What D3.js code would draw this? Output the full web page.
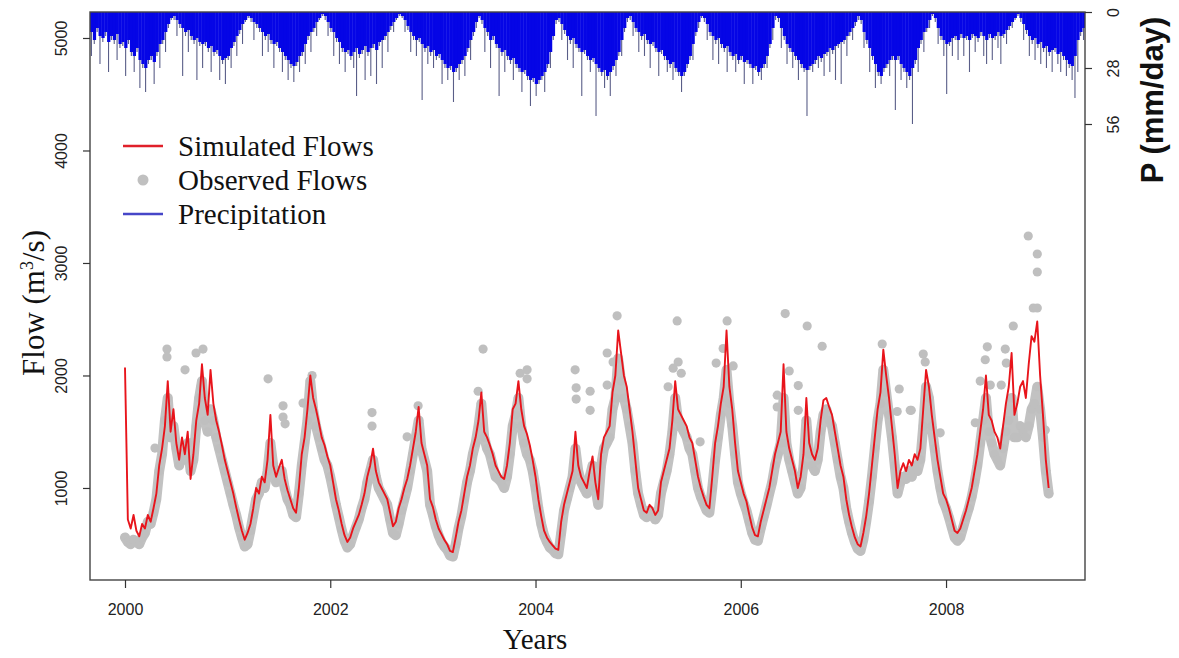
<!DOCTYPE html>
<html><head><meta charset="utf-8">
<script src="https://cdn.jsdelivr.net/npm/d3@7"></script>
<style>body{margin:0;background:#fff}</style>
</head><body>
<svg id="chart" width="1179" height="658"></svg>
<script>
// ---- data (~10-day resolution) ----
const flowStart = 2000;      // decimal year of first flow value
const flowStep = 1/36;       // years between flow values
const simulated = [
 2070,720,640,760,620,570,680,640,760,700,820,950,1200,1350,1550,1950,1500,1700,1400,1250,1450,1300,1500,1080,1300,1600,1750,2100,1800,1650,2050,1750,1600,1500,1380,1250,
 1150,1050,950,830,720,620,540,600,680,820,1000,950,1100,1050,1250,1650,1200,1100,1180,1250,1080,980,900,820,780,1000,1300,1450,1700,2000,1800,1700,1580,1450,1380,1280,
 1200,1050,900,800,680,580,520,560,640,700,760,850,950,1100,1200,1350,1150,1050,1000,950,900,780,660,700,820,900,1000,1080,1200,1350,1500,1720,1400,1300,1200,900,
 830,720,640,590,540,500,440,430,560,700,800,950,1100,1200,1350,1450,1600,1850,1500,1450,1380,1300,1200,1150,1100,1080,1200,1400,1700,1750,1950,1700,1550,1480,1380,1250,
 1100,900,750,620,560,520,490,460,450,700,850,950,1050,1150,1500,1200,1100,1050,1000,1150,1280,1050,900,1300,1450,1500,1550,1850,2000,2400,2200,2000,1900,1700,1500,1250,
 1000,900,800,780,850,820,760,800,1050,1150,1250,1350,1600,1950,1700,1650,1600,1550,1450,1400,1250,1100,1000,920,850,820,1100,1400,1550,1750,1900,2400,1900,1700,1400,1150,
 1050,950,880,760,650,580,570,700,800,900,1000,1150,1300,1400,1500,2100,1500,1350,1250,1150,1000,1100,1300,1800,1400,1300,1250,1350,1600,1780,1800,1720,1650,1500,1350,1200,
 1100,900,760,650,560,500,480,600,750,950,1200,1450,1700,1850,2230,2000,1800,1550,1300,1000,1150,1220,1150,1250,1200,1300,1250,1350,1700,2050,1900,1650,1450,1250,1100,950,
 900,820,720,620,600,640,720,800,900,1000,1150,1300,1500,1700,2000,1650,1600,1500,1450,1350,1550,1750,1900,2200,1650,1750,1900,1950,1800,2100,2350,2300,2480,2000,1650,1250,1000
];
const observed = [
 560,520,500,540,520,500,560,600,700,680,780,900,1150,1300,1600,1800,1450,1550,1350,1200,1300,1250,1400,1150,1250,1550,1800,1950,1600,1500,1700,1600,1450,1350,1250,1150,
 1050,950,850,760,650,560,480,500,620,760,900,950,1050,1000,1150,1400,1200,1050,1150,1150,1000,900,850,760,740,950,1200,1400,1600,1950,1700,1550,1450,1350,1250,1200,
 1100,980,850,740,630,530,470,500,580,650,720,820,900,1050,1150,1250,1100,1000,950,900,850,720,600,580,680,800,900,1000,1150,1300,1450,1600,1350,1250,1150,850,
 760,660,580,520,480,450,400,390,500,640,750,900,1050,1150,1300,1400,1550,1750,1450,1350,1300,1200,1100,1080,1050,1000,1100,1300,1550,1650,1800,1550,1400,1300,1250,1150,
 1000,820,680,580,520,470,450,420,410,600,800,900,1000,1100,1350,1150,1050,1000,950,1100,1200,1000,850,1200,1350,1400,1450,1700,1800,2150,1950,1800,1700,1550,1400,1150,
 950,850,760,740,800,760,720,760,950,1050,1150,1300,1500,1800,1600,1550,1500,1450,1350,1300,1150,1000,920,860,800,780,1000,1250,1450,1650,1800,2050,1750,1550,1300,1050,
 950,870,800,700,600,540,530,640,740,840,950,1050,1200,1300,1400,1800,1400,1250,1150,1050,950,1000,1200,1600,1300,1200,1150,1250,1500,1650,1700,1600,1550,1400,1250,1100,
 1000,820,700,600,520,460,440,540,700,880,1100,1350,1600,1750,2050,1850,1650,1450,1200,950,1050,1100,1080,1150,1100,1200,1150,1250,1550,1900,1800,1550,1350,1150,1000,880,
 820,740,650,560,530,560,650,740,820,920,1050,1200,1400,1600,1800,1500,1400,1300,1250,1200,1350,1500,1600,1800,1450,1450,1550,1500,1450,1550,1700,1750,1900,1700,1450,1150,950
];
// scattered high observations (decimal year, flow)
const observedExtraYears = [2000.292,2000.409,2000.409,2000.585,2000.692,2000.740,2000.760,2001.394,2001.540,2001.540,2001.560,2001.735,2001.823,2002.407,2002.407,2002.749,2002.856,2003.441,2003.489,2003.850,2003.918,2003.918,2004.386,2004.396,2004.396,2004.532,2004.532,2004.698,2004.698,2004.756,2004.795,2005.292,2005.341,2005.380,2005.390,2005.420,2005.604,2005.760,2005.828,2005.867,2005.926,2006.355,2006.355,2006.433,2006.472,2006.560,2006.560,2006.647,2006.793,2007.378,2007.524,2007.544,2007.651,2007.661,2007.778,2007.797,2007.943,2008.285,2008.333,2008.382,2008.402,2008.431,2008.538,2008.577,2008.587,2008.655,2008.801,2008.850,2008.889,2008.889,2008.889,2008.967];
const observedExtraValues = [1355,2235,2165,2050,2200,1900,2235,1970,1730,1630,1570,1755,2000,1670,1550,1455,1730,1860,2235,2020,2050,1970,2050,1890,1790,1860,1690,2200,1915,2120,2530,1900,2065,2485,2120,2020,1410,2110,2240,2485,2085,1825,1720,2550,2040,1910,1690,2440,2260,2280,1680,1880,1690,1690,2190,2120,1490,1580,1950,2140,2255,1915,1915,2235,2110,2440,3240,2600,3080,2920,2600,1515];

const precipStart = 1999.659;  // decimal year of first precipitation bar
const precipStep = 1/36;
// typical daily precipitation in each bar (mm/day)
const precipTypical = [
 10,14,8,12,13,10,15,12,14,11,16,15,18,14,20,22,18,24,26,28,24,22,25,20,16,14,10,6,3,
 2,4,6,8,10,9,12,14,13,15,16,15,18,17,20,19,22,24,23,22,18,15,12,9,6,4,2,
 3,5,6,8,10,12,11,14,16,15,18,20,22,24,26,27,25,22,20,16,12,10,8,5,3,1,
 2,5,8,10,13,15,18,20,19,22,20,18,21,19,17,20,18,16,19,15,14,12,10,7,5,3,1,
 2,4,7,10,12,14,13,16,18,17,20,19,22,21,24,26,28,27,30,28,26,24,22,18,14,10,5,2,
 4,8,10,14,12,16,18,20,19,22,24,23,26,28,30,29,32,34,33,36,34,32,30,26,20,12,4,
 3,6,9,12,14,13,16,18,20,19,22,24,23,26,28,30,29,32,30,27,24,20,14,8,3,
 2,5,8,10,12,11,14,16,15,18,20,19,22,24,26,25,28,30,32,30,26,22,16,10,5,2,
 3,6,10,12,14,13,16,18,17,20,22,21,24,22,25,24,26,28,27,30,28,26,22,16,8,2,
 3,8,12,16,18,20,22,24,26,28,29,27,26,24,22,23,21,20,18,19,17,16,15,14,12,10,8,5,2,
 4,10,14,18,22,26,30,32,28,26,24,22,24,22,26,28,30,32,28,24,18,14,10,8,4,1,
 3,8,12,14,16,15,13,12,14,11,13,12,14,11,12,13,10,12,14,11,13,12,10,12,11,9,7,5,3,1,
 3,6,9,12,14,13,16,15,18,17,20,19,18,21,20,22,24,26,27,22,14,10,8,6
];
// highest daily precipitation in each bar (mm/day)
const precipMax = [
 22,16,10,26,15,12,30,14,16,24,18,17,32,16,22,30,20,38,28,40,26,24,36,22,28,16,20,8,4,
 4,12,8,32,12,20,14,16,34,17,28,17,20,30,22,21,34,26,36,24,28,17,22,11,16,5,3,
 5,14,8,10,22,14,20,16,28,17,20,30,24,34,28,35,27,30,22,26,14,20,10,12,4,2,
 4,12,10,22,15,26,20,30,21,24,28,42,23,21,34,22,32,18,36,17,28,14,20,9,10,4,2,
 3,10,9,20,14,22,15,44,20,26,22,28,24,23,36,28,34,29,45,30,34,26,32,20,24,12,8,3,
 6,20,12,28,14,18,42,22,30,24,26,34,28,30,40,31,34,47,35,42,36,34,40,28,28,14,6,
 5,14,11,24,16,28,18,20,42,21,24,30,25,52,30,32,38,34,42,29,32,22,22,10,5,
 4,12,10,20,14,22,16,28,17,20,32,21,24,30,28,34,30,32,40,32,28,24,24,12,8,3,
 5,14,12,24,16,26,18,20,30,22,24,30,26,24,36,26,28,36,29,32,34,28,28,18,14,4,
 5,18,14,26,20,28,24,34,28,30,52,29,30,26,28,25,32,22,30,21,34,18,36,16,22,12,14,7,4,
 6,18,16,30,24,38,32,36,30,28,32,24,49,24,34,30,38,34,56,26,30,16,20,10,8,2,
 5,16,14,22,41,17,22,14,24,13,22,14,30,13,20,15,12,22,26,13,24,14,18,26,13,16,9,8,4,2,
 5,14,11,22,16,24,18,26,20,28,22,30,20,26,30,24,32,28,34,43,30,12,14,7
];

const xTicks = [2000, 2002, 2004, 2006, 2008];
const flowTicks = [1000, 2000, 3000, 4000, 5000];
const precipTicks = [0, 28, 56];
const legendLabels = ["Simulated Flows", "Observed Flows", "Precipitation"];

// ---- drawing ----
const svg = d3.select("#chart");
const L = 90, R = 1085, T = 12, B = 580;
const x = d3.scaleLinear().domain([1999.659, 2009.354]).range([L, R]);
const y = d3.scaleLinear().domain([182, 5231]).range([B, T]);
const p = d3.scaleLinear().domain([0, 284]).range([T, B]);

svg.append("defs").append("clipPath").attr("id", "clip")
  .append("rect").attr("x", L).attr("y", T).attr("width", R - L).attr("height", B - T);
const plot = svg.append("g").attr("clip-path", "url(#clip)");

// observed flows: dense daily dots appear as a continuous grey band
const obsGrid = observed.map((v, i) => [flowStart + i * flowStep, v]);
plot.append("path").datum(obsGrid)
  .attr("d", d3.line().x(d => x(d[0])).y(d => y(d[1])))
  .attr("fill", "none").attr("stroke", "#c2c2c2").attr("stroke-width", 10)
  .attr("stroke-linejoin", "round").attr("stroke-linecap", "round");
const obsPts = obsGrid.concat(observedExtraYears.map((t, i) => [t, observedExtraValues[i]]));
plot.append("g").selectAll("circle").data(obsPts).join("circle")
  .attr("cx", d => x(d[0])).attr("cy", d => y(d[1])).attr("r", 4.6)
  .attr("fill", "#bfbfbf");

// simulated flows
plot.append("path").datum(simulated)
  .attr("d", d3.line().x((d, i) => x(flowStart + i * flowStep)).y(d => y(d)))
  .attr("fill", "none").attr("stroke", "#e8141b").attr("stroke-width", 1.9)
  .attr("stroke-linejoin", "round");

// precipitation (hanging from the top)
const pData = precipTypical.map((v, i) => ({t: precipStart + i * precipStep, base: v, max: precipMax[i]}));
const bw = x(precipStart + precipStep) - x(precipStart);
plot.append("g").selectAll("line").data(pData).join("line")
  .attr("x1", d => x(d.t) + bw / 2).attr("x2", d => x(d.t) + bw / 2)
  .attr("y1", T).attr("y2", d => p(d.max))
  .attr("stroke", "#5a5e88").attr("stroke-width", 1.1);
plot.append("g").selectAll("rect").data(pData).join("rect")
  .attr("x", d => x(d.t)).attr("width", bw + 0.4)
  .attr("y", T).attr("height", d => p(d.base) - T)
  .attr("fill", "#0505e6");

// frame
svg.append("rect").attr("x", L).attr("y", T).attr("width", R - L).attr("height", B - T)
  .attr("fill", "none").attr("stroke", "#444").attr("stroke-width", 1.4);

// axes
const axisStyle = g => {
  g.select(".domain").remove();
  g.selectAll(".tick line").attr("stroke", "#333").attr("stroke-width", 1.2);
  g.selectAll(".tick text").attr("fill", "#222")
    .style("font-family", "'Liberation Sans', Arial, sans-serif").style("font-size", "16px");
};
svg.append("g").attr("transform", `translate(0,${B})`)
  .call(d3.axisBottom(x).tickValues(xTicks).tickFormat(d3.format("d")).tickSize(8))
  .call(axisStyle)
  .call(g => g.selectAll(".tick text").attr("y", 24).attr("dy", "0.71em"));
svg.append("g").attr("transform", `translate(${L},0)`)
  .call(d3.axisLeft(y).tickValues(flowTicks).tickFormat(d3.format("d")).tickSize(7))
  .call(axisStyle)
  .call(g => g.selectAll(".tick text").attr("x", 0).attr("y", -23).attr("dy", 0)
    .attr("transform", "rotate(-90)").attr("text-anchor", "middle"));
svg.append("g").attr("transform", `translate(${R},0)`)
  .call(d3.axisRight(p).tickValues(precipTicks).tickSize(7))
  .call(axisStyle)
  .call(g => g.selectAll(".tick text").attr("x", 0).attr("y", 34).attr("dy", 0)
    .attr("transform", "rotate(-90)").attr("text-anchor", "middle"));

// titles
const serif = "'Liberation Serif', 'Times New Roman', serif";
svg.append("text").attr("x", 535).attr("y", 649).attr("text-anchor", "middle")
  .style("font-family", serif).style("font-size", "29px").attr("fill", "#111").text("Years");
const yt = svg.append("text").attr("transform", "translate(44,303) rotate(-90)")
  .attr("text-anchor", "middle").style("font-family", serif).style("font-size", "31px").attr("fill", "#111");
yt.append("tspan").text("Flow (m");
yt.append("tspan").attr("dy", -11).style("font-size", "18px").text("3");
yt.append("tspan").attr("dy", 11).text("/s)");
svg.append("text").attr("transform", "translate(1163,100) rotate(-90)")
  .attr("text-anchor", "middle").style("font-family", "'Liberation Sans', Arial, sans-serif")
  .style("font-size", "31px").style("font-weight", "bold").attr("fill", "#111").text("P (mm/day)");

// legend
const lg = svg.append("g");
const rows = [146, 180, 214];
lg.append("line").attr("x1", 123).attr("x2", 163).attr("y1", rows[0]).attr("y2", rows[0])
  .attr("stroke", "#e0202a").attr("stroke-width", 2.5);
lg.append("circle").attr("cx", 143).attr("cy", rows[1]).attr("r", 5.5).attr("fill", "#c0c0c0");
lg.append("line").attr("x1", 123).attr("x2", 163).attr("y1", rows[2]).attr("y2", rows[2])
  .attr("stroke", "#4646c8").attr("stroke-width", 2.5);
lg.selectAll("text").data(legendLabels).join("text")
  .attr("x", 178).attr("y", (d, i) => rows[i] + 10)
  .style("font-family", serif).style("font-size", "29px").attr("fill", "#111").text(d => d);
</script>
</body></html>
